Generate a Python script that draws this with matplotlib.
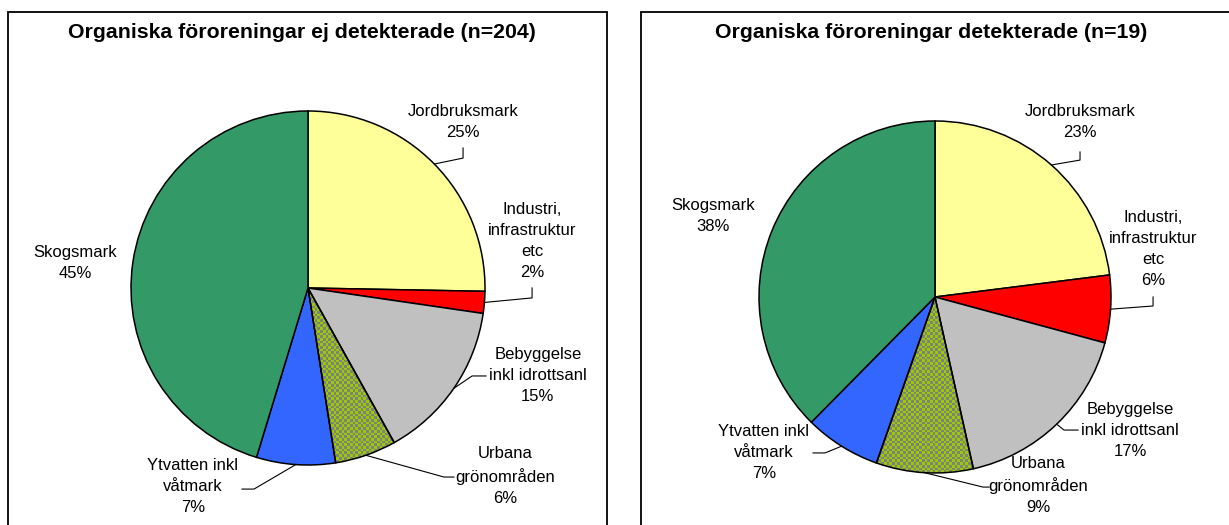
import matplotlib
matplotlib.use("Agg")
import matplotlib.pyplot as plt
import matplotlib.patches as patches
import numpy as np

W, H = 1229, 525

categories = ["Jordbruksmark", "Industri,\ninfrastruktur\netc", "Bebyggelse\ninkl idrottsanl",
              "Urbana\ngrönområden", "Ytvatten inkl\nvåtmark", "Skogsmark"]
left_values = [25.3, 2.0, 14.6, 5.6, 7.2, 45.3]
right_values = [23.0, 6.2, 17.3, 8.9, 7.0, 37.6]
left_title = "Organiska föroreningar ej detekterade (n=204)"
right_title = "Organiska föroreningar detekterade (n=19)"

colors = ["#FFFF99", "#FF0000", "#C0C0C0", "none", "#3366FF", "#339966"]
CHECK_A, CHECK_B = "#99CC00", "#808080"

# label centres and leader stubs, in units of pie radius
left_labels = [(0.876, 0.938), (1.266, 0.268), (1.299, -0.497), (1.113, -1.062), (-0.650, -1.124), (-1.316, 0.141)]
left_leaders = [((0.876, 0.791), (0.876, 0.734)), ((1.266, 0.0), (1.266, -0.056)),
                ((1.006, -0.497), (0.927, -0.497)), ((0.825, -1.068), (0.768, -1.068)),
                ((-0.373, -1.136), (-0.305, -1.136)), None]
right_labels = [(0.824, 0.994), (1.239, 0.273), (1.108, -0.756), (0.585, -1.071), (-0.972, -0.886), (-1.261, 0.463)]
right_leaders = [((0.824, 0.824), (0.824, 0.778)), ((1.239, 0.0), (1.239, -0.051)),
                 ((0.813, -0.756), (0.733, -0.756)), ((0.307, -1.080), (0.273, -1.080)),
                 ((-0.693, -0.886), (-0.625, -0.886)), None]

plt.rcParams['font.family'] = ['Liberation Sans', 'DejaVu Sans']

fig = plt.figure(figsize=(W / 100, H / 100), dpi=100)


def checker_rgb(n):
    a = np.array(matplotlib.colors.to_rgb(CHECK_A))
    b = np.array(matplotlib.colors.to_rgb(CHECK_B))
    ii, jj = np.indices((n, n))
    mask = ((ii + jj) % 2 == 0)[..., None]
    return np.where(mask, a, b)


def draw_pie(cx, cy, r, values, labels_xy, leaders):
    span = 1.8
    ax = fig.add_axes([(cx - span * r) / W, (H - cy - span * r) / H, 2 * span * r / W, 2 * span * r / H])
    wedges, _ = ax.pie(values, colors=colors, startangle=90, counterclock=False,
                       wedgeprops=dict(edgecolor="black", linewidth=1.1))
    # checker fill for the urban green slice
    im = ax.imshow(checker_rgb(int(2 * r / 2.7)), extent=(-1, 1, -1, 1), interpolation="nearest", zorder=0.5)
    im.set_clip_path(wedges[3])
    wedges[3].set_zorder(2)
    ax.set_xlim(-span, span)
    ax.set_ylim(-span, span)
    ax.set_aspect("equal")
    ax.axis("off")

    total = sum(values)
    for w, name, v, (lx, ly), lead in zip(wedges, categories, values, labels_xy, leaders):
        ax.text(lx, ly, f"{name}\n{v / total * 100:.0f}%", ha="center", va="center",
                fontsize=12, linespacing=1.5)
        if lead is not None:
            mid = np.radians((w.theta1 + w.theta2) / 2)
            (ax0, ay0), (ex, ey) = lead
            ax.plot([ax0, ex, np.cos(mid)], [ay0, ey, np.sin(mid)], color="black", lw=0.8)


draw_pie(308, 288, 177, left_values, left_labels, left_leaders)
draw_pie(935, 297, 176, right_values, right_labels, right_leaders)

# chart frames (cut by the image edges)
fig.patches.append(patches.Rectangle((8 / W, -0.1), (607 - 8) / W, (H - 12) / H + 0.1, transform=fig.transFigure,
                                     fill=False, edgecolor="black", lw=1.3))
fig.patches.append(patches.Rectangle((641 / W, -0.1), 0.6, (H - 12) / H + 0.1, transform=fig.transFigure,
                                     fill=False, edgecolor="black", lw=1.3))

fig.text(302 / W, 1 - 32 / H, left_title, ha="center", va="center", fontsize=15.3, fontweight="bold")
fig.text(931 / W, 1 - 32 / H, right_title, ha="center", va="center", fontsize=15.3, fontweight="bold")

fig.savefig("out.png", dpi=100)
